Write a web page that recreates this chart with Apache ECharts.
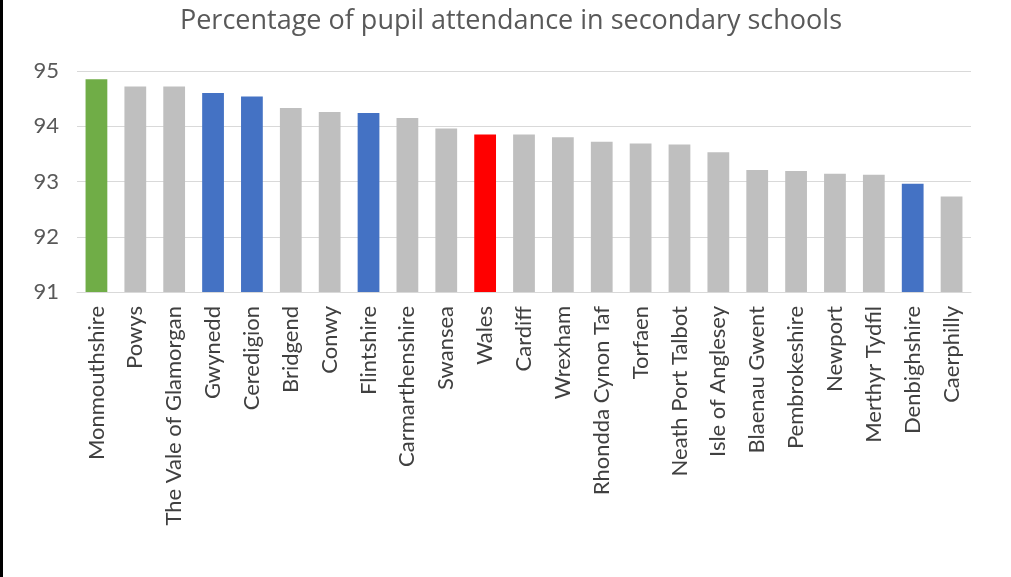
<!DOCTYPE html>
<html>
<head>
<meta charset="utf-8">
<script src="https://cdn.jsdelivr.net/npm/echarts@6/dist/echarts.min.js"></script>
<style>
  html, body { margin: 0; padding: 0; background: #fff; }
  #chart { width: 1008px; height: 577px; border-left: 3px solid #000; }
</style>
</head>
<body>
<div id="chart"></div>
<script>
const categories = [
  "Monmouthshire", "Powys", "The Vale of Glamorgan", "Gwynedd", "Ceredigion",
  "Bridgend", "Conwy", "Flintshire", "Carmarthenshire", "Swansea", "Wales",
  "Cardiff", "Wrexham", "Rhondda Cynon Taf", "Torfaen", "Neath Port Talbot",
  "Isle of Anglesey", "Blaenau Gwent", "Pembrokeshire", "Newport",
  "Merthyr Tydfil", "Denbighshire", "Caerphilly"
];
const attendance = [
  94.85, 94.72, 94.72, 94.60, 94.54, 94.33, 94.26, 94.24, 94.15, 93.96, 93.85,
  93.85, 93.80, 93.72, 93.69, 93.67, 93.53, 93.21, 93.19, 93.14, 93.12, 92.96, 92.73
];
// highlighted bars, everything else grey
const highlight = {
  "Monmouthshire": "#70ad47",
  "Gwynedd": "#4472c4",
  "Ceredigion": "#4472c4",
  "Flintshire": "#4472c4",
  "Denbighshire": "#4472c4",
  "Wales": "#ff0000"
};

const chart = echarts.init(document.getElementById("chart"));

const option = {
  animation: false,
  title: {
    text: "Percentage of pupil attendance in secondary schools",
    left: 503,
    top: 3,
    textAlign: "center",
    textStyle: {
      fontFamily: "Open Sans",
      fontSize: 27,
      fontWeight: "normal",
      color: "#595959"
    }
  },
  grid: {
    left: 74,
    right: 40,
    top: 71,
    bottom: 285
  },
  xAxis: {
    type: "category",
    data: categories,
    axisLine: { lineStyle: { color: "#d9d9d9" } },
    axisTick: { show: false },
    axisLabel: {
      interval: 0,
      rotate: 90,
      margin: 14,
      fontFamily: "Lato",
      fontSize: 22,
      color: "#404040"
    }
  },
  yAxis: {
    type: "value",
    min: 91,
    max: 95,
    interval: 1,
    axisLine: { show: false },
    axisTick: { show: false },
    splitLine: { lineStyle: { color: "#d9d9d9", width: 1 } },
    axisLabel: {
      margin: 18,
      fontFamily: "Lato",
      fontSize: 22,
      color: "#595959"
    }
  },
  series: [
    {
      type: "bar",
      barWidth: "56%",
      data: attendance.map((v, i) => ({
        value: v,
        itemStyle: { color: highlight[categories[i]] || "#bfbfbf" }
      }))
    }
  ]
};

chart.setOption(option);
</script>
</body>
</html>
